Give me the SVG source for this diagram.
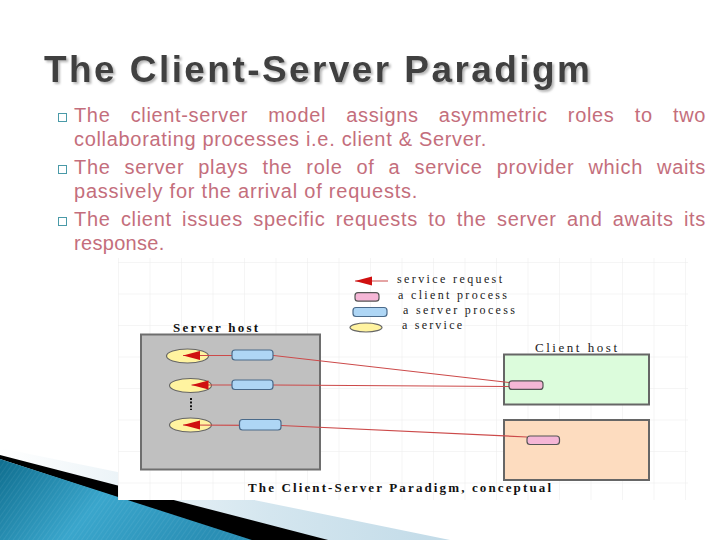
<svg xmlns="http://www.w3.org/2000/svg" width="720" height="540" viewBox="0 0 720 540">
<defs>
<style>
.title{font-family:"Liberation Sans","DejaVu Sans",sans-serif;font-size:37px;font-weight:bold;fill:#404040}
.body{font-family:"Liberation Sans","DejaVu Sans",sans-serif;font-size:20px;fill:#c46e7c;letter-spacing:0.65px}
.bullet{fill:none;stroke:#4a9aa8;stroke-width:1}
.dtext{font-family:"Liberation Serif","DejaVu Serif",serif;font-size:12px;fill:#222}
.dbold{font-family:"Liberation Serif","DejaVu Serif",serif;font-size:13px;font-weight:bold;fill:#111}
.grid{stroke:#ececec;stroke-width:1}
.conn{fill:none;stroke:#cc4a4a;stroke-width:1.2}
.client{fill:#f5b6d6;stroke:#555;stroke-width:1.2}
.server{fill:#aed6f5;stroke:#4a6a8a;stroke-width:1.2}
.service{fill:#fff3a0;stroke:#666;stroke-width:1.2}
</style>
<filter id="shadow" x="-5%" y="-20%" width="110%" height="150%">
<feDropShadow dx="2" dy="2" stdDeviation="0.8" flood-color="#9a9a9a" flood-opacity="0.7"/>
</filter>
<marker id="arr" markerUnits="userSpaceOnUse" markerWidth="18" markerHeight="10" refX="17" refY="4.5" orient="auto">
<path d="M0,0 L17,4.5 L0,9 Z" fill="#d01010"/>
</marker>
<linearGradient id="blueG" x1="0" y1="0" x2="1" y2="0.3">
<stop offset="0" stop-color="#0f6e8f"/>
<stop offset="0.5" stop-color="#3aa6cc"/>
<stop offset="1" stop-color="#2a8fb5"/>
</linearGradient>
<linearGradient id="paleG" x1="0" y1="0" x2="1" y2="0">
<stop offset="0" stop-color="#ffffff"/>
<stop offset="0.6" stop-color="#d4e6ef"/>
<stop offset="1" stop-color="#c2dbe8"/>
</linearGradient>
<pattern id="stripes" width="4" height="4" patternUnits="userSpaceOnUse" patternTransform="rotate(35)">
<line x1="0" y1="0" x2="0" y2="4" stroke="#ffffff" stroke-opacity="0.12" stroke-width="1"/>
</pattern>
<pattern id="gridP" x="118" y="262" width="31.5" height="31.5" patternUnits="userSpaceOnUse">
<path d="M0,0 L31.5,0 M0,0 L0,31.5" class="grid" fill="none"/>
</pattern>
</defs>

<rect width="720" height="540" fill="#ffffff"/>

<!-- bottom-left swoosh -->
<g id="swoosh">
<polygon points="0,448 450,540 0,540" fill="url(#paleG)"/>
<polygon points="0,455 332,541 250,541 0,459" fill="#000"/>
<polygon points="0,459 255,541 0,541" fill="url(#blueG)"/>
<polygon points="0,459 255,541 0,541" fill="url(#stripes)"/>
</g>

<!-- title -->
<g id="title">
<text class="title" x="44" y="82" textLength="546" lengthAdjust="spacing" filter="url(#shadow)">The Client-Server Paradigm</text>
</g>

<!-- bullets -->
<g id="bullets">
<rect class="bullet" x="58.5" y="113.5" width="8" height="8"/>
<text class="body" x="74" y="121.5" word-spacing="14" textLength="632" lengthAdjust="spacing">The client-server model assigns asymmetric roles to two</text>
<text class="body" x="74" y="146" textLength="413" lengthAdjust="spacing">collaborating processes i.e. client &amp; Server.</text>
<rect class="bullet" x="58.5" y="165.5" width="8" height="8"/>
<text class="body" x="74" y="173.5" word-spacing="7.8" textLength="632" lengthAdjust="spacing">The server plays the role of a service provider which waits</text>
<text class="body" x="74" y="197.5" textLength="344" lengthAdjust="spacing">passively for the arrival of requests.</text>
<rect class="bullet" x="58.5" y="217.5" width="8" height="8"/>
<text class="body" x="74" y="225.5" word-spacing="4.1" textLength="632" lengthAdjust="spacing">The client issues specific requests to the server and awaits its</text>
<text class="body" x="74" y="249.5" textLength="91" lengthAdjust="spacing">response.</text>
</g>

<!-- diagram background -->
<g id="diagram-bg">
<rect x="118" y="258" width="570" height="242" fill="#ffffff"/>
<rect x="118" y="258" width="570" height="242" fill="url(#gridP)"/>
</g>

<!-- legend -->
<g id="legend">
<line x1="388" y1="281" x2="355" y2="281" class="conn" marker-end="url(#arr)"/>
<text class="dtext" x="397" y="283" textLength="105" lengthAdjust="spacing">service request</text>
<rect class="client" x="355" y="292.7" width="24" height="8.5" rx="3"/>
<text class="dtext" x="398" y="298.5" textLength="109" lengthAdjust="spacing">a client process</text>
<rect class="server" x="353" y="307.5" width="34" height="9" rx="3"/>
<text class="dtext" x="403" y="313.5" textLength="112" lengthAdjust="spacing">a server process</text>
<ellipse class="service" cx="366" cy="327.5" rx="16" ry="4.5"/>
<text class="dtext" x="402" y="328.5" textLength="60" lengthAdjust="spacing">a service</text>
</g>

<!-- server host -->
<g id="server-host">
<text class="dbold" x="173" y="332" textLength="85" lengthAdjust="spacing">Server host</text>
<rect x="141" y="334.5" width="179" height="135" fill="#c0c0c0" stroke="#6e6e6e" stroke-width="2"/>
</g>

<!-- client hosts -->
<g id="client-host-1">
<text class="dtext" x="535" y="352" textLength="82" lengthAdjust="spacing" style="font-size:13px">Client host</text>
<rect x="504" y="354.5" width="145" height="50" fill="#dcfcdc" stroke="#666" stroke-width="2"/>
</g>
<g id="client-host-2">
<rect x="504" y="420" width="145" height="60" fill="#fddcbf" stroke="#666" stroke-width="2"/>
</g>

<!-- services -->
<g id="service-1"><ellipse class="service" cx="187.5" cy="356" rx="21" ry="7"/></g>
<g id="service-2"><ellipse class="service" cx="190.5" cy="385.5" rx="21" ry="7"/></g>
<g id="service-3"><ellipse class="service" cx="190.5" cy="425" rx="21" ry="7"/></g>
<g id="ellipsis">
<line x1="191" y1="398" x2="191" y2="410" stroke="#111" stroke-width="2" stroke-dasharray="2,1.6"/>
</g>

<!-- connectors -->
<g id="connectors">
<polyline class="conn" points="509,382.5 252,353 232,355.5 183,355.5" marker-end="url(#arr)"/>
<polyline class="conn" points="509,386.5 273,385 191.5,385" marker-end="url(#arr)"/>
<polyline class="conn" points="527,437 281,425.5 183,425" marker-end="url(#arr)"/>
</g>

<!-- server processes -->
<g id="server-process-1"><rect class="server" x="232" y="350" width="41" height="10" rx="3"/></g>
<g id="server-process-2"><rect class="server" x="232" y="380" width="41" height="9.5" rx="3"/></g>
<g id="server-process-3"><rect class="server" x="239.5" y="419.5" width="41.5" height="10.5" rx="3"/></g>

<!-- client processes -->
<g id="client-process-1"><rect class="client" x="509" y="380.8" width="34" height="8.6" rx="3"/></g>
<g id="client-process-2"><rect class="client" x="527" y="436" width="32.5" height="8.5" rx="3"/></g>

<!-- caption -->
<g id="caption">
<text class="dbold" x="248" y="492" textLength="303" lengthAdjust="spacing">The Client-Server Paradigm, conceptual</text>
</g>
</svg>
